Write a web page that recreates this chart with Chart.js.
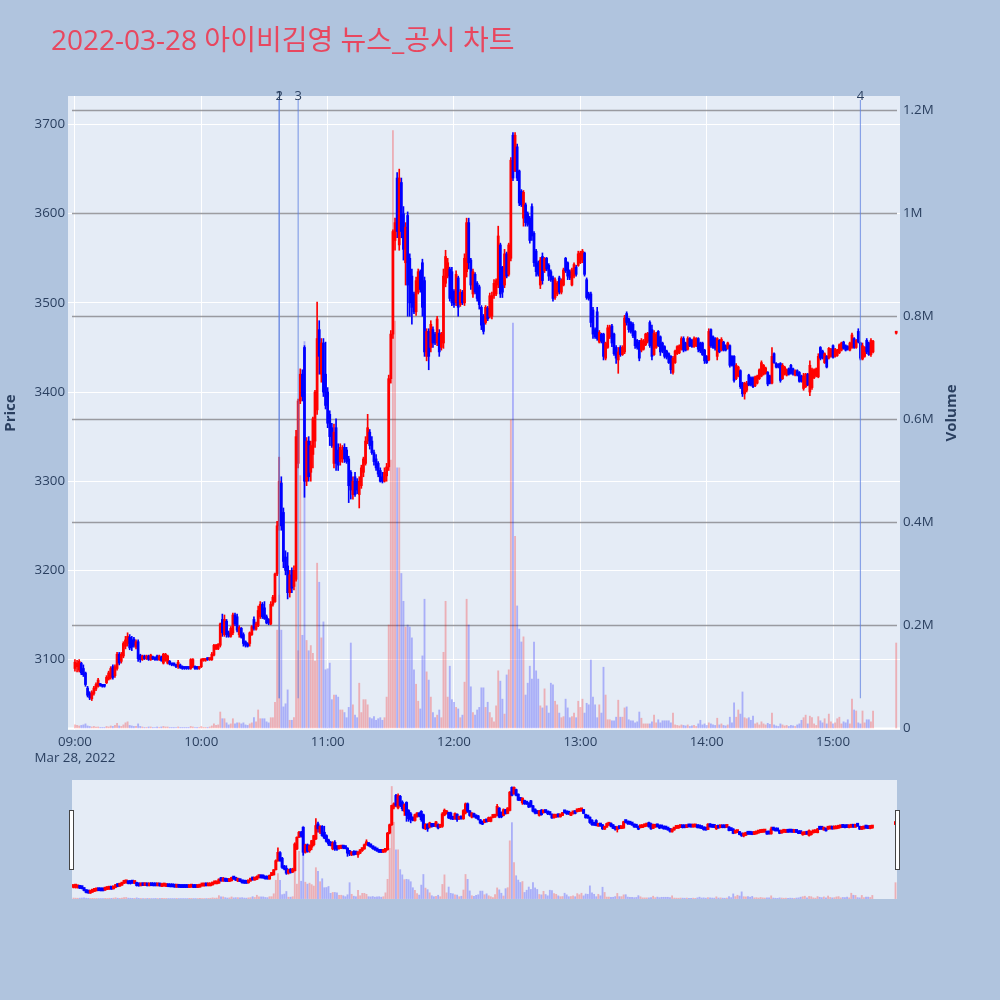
<!DOCTYPE html>
<html><head><meta charset="utf-8">
<script src="https://cdn.jsdelivr.net/npm/chart.js"></script>
<style>
html,body{margin:0;padding:0;background:#b0c4de;width:1000px;height:1000px;overflow:hidden;}
#main{position:absolute;left:0;top:0;}
#slider{position:absolute;left:72px;top:780px;}
.handle{position:absolute;top:810px;width:3px;height:58px;background:#ffffff;border:1px solid #444444;}
</style></head>
<body>
<canvas id="main" width="1000" height="775"></canvas>
<canvas id="slider" width="825" height="119"></canvas>
<div class="handle" style="left:69px"></div>
<div class="handle" style="left:895px"></div>
<script>
const titleText = '2022-03-28 아이비김영 뉴스_공시 차트';
const dateLabel = 'Mar 28, 2022';
const xTickTimes = ['09:00','10:00','11:00','12:00','13:00','14:00','15:00'];
const priceTicks = [3100,3200,3300,3400,3500,3600,3700];
const volumeTicks = [0,200000,400000,600000,800000,1000000,1200000];
const volumeTickLabels = ['0','0.2M','0.4M','0.6M','0.8M','1M','1.2M'];
const newsTimes = ['10:37','10:37','10:46','15:13'];
const newsLabels = ['1','2','3','4'];

const times = [
'09:00','09:01','09:02','09:03','09:04','09:05','09:06','09:07','09:08','09:09',
'09:10','09:11','09:12','09:13','09:14','09:15','09:16','09:17','09:18','09:19',
'09:20','09:21','09:22','09:23','09:24','09:25','09:26','09:27','09:28','09:29',
'09:30','09:31','09:32','09:33','09:34','09:35','09:36','09:37','09:38','09:39',
'09:40','09:41','09:42','09:43','09:44','09:45','09:46','09:47','09:48','09:49',
'09:50','09:51','09:52','09:53','09:54','09:55','09:56','09:57','09:58','09:59',
'10:00','10:01','10:02','10:03','10:04','10:05','10:06','10:07','10:08','10:09',
'10:10','10:11','10:12','10:13','10:14','10:15','10:16','10:17','10:18','10:19',
'10:20','10:21','10:22','10:23','10:24','10:25','10:26','10:27','10:28','10:29',
'10:30','10:31','10:32','10:33','10:34','10:35','10:36','10:37','10:38','10:39',
'10:40','10:41','10:42','10:43','10:44','10:45','10:46','10:47','10:48','10:49',
'10:50','10:51','10:52','10:53','10:54','10:55','10:56','10:57','10:58','10:59',
'11:00','11:01','11:02','11:03','11:04','11:05','11:06','11:07','11:08','11:09',
'11:10','11:11','11:12','11:13','11:14','11:15','11:16','11:17','11:18','11:19',
'11:20','11:21','11:22','11:23','11:24','11:25','11:26','11:27','11:28','11:29',
'11:30','11:31','11:32','11:33','11:34','11:35','11:36','11:37','11:38','11:39',
'11:40','11:41','11:42','11:43','11:44','11:45','11:46','11:47','11:48','11:49',
'11:50','11:51','11:52','11:53','11:54','11:55','11:56','11:57','11:58','11:59',
'12:00','12:01','12:02','12:03','12:04','12:05','12:06','12:07','12:08','12:09',
'12:10','12:11','12:12','12:13','12:14','12:15','12:16','12:17','12:18','12:19',
'12:20','12:21','12:22','12:23','12:24','12:25','12:26','12:27','12:28','12:29',
'12:30','12:31','12:32','12:33','12:34','12:35','12:36','12:37','12:38','12:39',
'12:40','12:41','12:42','12:43','12:44','12:45','12:46','12:47','12:48','12:49',
'12:50','12:51','12:52','12:53','12:54','12:55','12:56','12:57','12:58','12:59',
'13:00','13:01','13:02','13:03','13:04','13:05','13:06','13:07','13:08','13:09',
'13:10','13:11','13:12','13:13','13:14','13:15','13:16','13:17','13:18','13:19',
'13:20','13:21','13:22','13:23','13:24','13:25','13:26','13:27','13:28','13:29',
'13:30','13:31','13:32','13:33','13:34','13:35','13:36','13:37','13:38','13:39',
'13:40','13:41','13:42','13:43','13:44','13:45','13:46','13:47','13:48','13:49',
'13:50','13:51','13:52','13:53','13:54','13:55','13:56','13:57','13:58','13:59',
'14:00','14:01','14:02','14:03','14:04','14:05','14:06','14:07','14:08','14:09',
'14:10','14:11','14:12','14:13','14:14','14:15','14:16','14:17','14:18','14:19',
'14:20','14:21','14:22','14:23','14:24','14:25','14:26','14:27','14:28','14:29',
'14:30','14:31','14:32','14:33','14:34','14:35','14:36','14:37','14:38','14:39',
'14:40','14:41','14:42','14:43','14:44','14:45','14:46','14:47','14:48','14:49',
'14:50','14:51','14:52','14:53','14:54','14:55','14:56','14:57','14:58','14:59',
'15:00','15:01','15:02','15:03','15:04','15:05','15:06','15:07','15:08','15:09',
'15:10','15:11','15:12','15:13','15:14','15:15','15:16','15:17','15:18','15:19',
'15:30'];

const opens = [
3090,3092,3088,3096,3090,3085,3068,3062,3056,3062,
3067,3070,3072,3071,3071,3074,3078,3080,3092,3082,
3090,3106,3098,3104,3115,3118,3125,3122,3123,3114,
3120,3105,3100,3104,3101,3104,3100,3103,3102,3104,
3100,3103,3096,3099,3096,3098,3095,3095,3094,3092,
3094,3092,3091,3091,3091,3090,3092,3092,3091,3090,
3092,3099,3099,3101,3100,3100,3105,3112,3112,3116,
3145,3128,3143,3130,3126,3130,3150,3148,3128,3135,
3128,3120,3118,3118,3128,3145,3134,3138,3148,3162,
3158,3148,3145,3140,3162,3165,3196,3250,3298,3265,
3215,3205,3175,3200,3182,3190,3320,3390,3420,3450,
3300,3345,3310,3330,3345,3380,3470,3420,3455,3420,
3400,3375,3360,3320,3360,3335,3322,3325,3338,3335,
3325,3310,3285,3305,3300,3285,3295,3310,3320,3345,
3355,3345,3332,3325,3320,3312,3305,3300,3306,3316,
3415,3465,3570,3640,3565,3635,3600,3545,3598,3550,
3530,3510,3490,3512,3535,3545,3525,3440,3468,3450,
3470,3465,3455,3466,3450,3455,3522,3530,3538,3535,
3513,3500,3528,3498,3512,3500,3535,3590,3548,3510,
3532,3522,3518,3495,3485,3478,3494,3485,3485,3508,
3510,3520,3565,3540,3520,3555,3532,3550,3688,3648,
3675,3648,3625,3595,3610,3600,3595,3608,3578,3558,
3545,3520,3552,3536,3550,3542,3535,3528,3506,3510,
3528,3512,3520,3550,3545,3535,3520,3530,3540,3542,
3545,3548,3556,3526,3510,3510,3492,3470,3490,3456,
3465,3465,3438,3450,3462,3474,3465,3450,3436,3450,
3442,3445,3488,3482,3478,3476,3468,3458,3456,3447,
3448,3453,3457,3478,3470,3442,3450,3468,3462,3455,
3451,3446,3443,3440,3422,3433,3443,3444,3448,3460,
3455,3448,3460,3458,3451,3452,3460,3455,3455,3447,
3440,3436,3470,3462,3460,3440,3458,3447,3456,3452,
3449,3452,3440,3440,3415,3418,3424,3410,3398,3402,
3419,3416,3416,3407,3410,3415,3418,3420,3421,3422,
3418,3410,3443,3432,3431,3432,3415,3420,3419,3426,
3430,3426,3419,3424,3422,3418,3404,3406,3420,3400,
3405,3416,3418,3417,3450,3446,3433,3440,3438,3440,
3452,3440,3441,3444,3447,3456,3452,3451,3447,3450,
3460,3450,3468,3455,3437,3440,3458,3455,3442,3445,
3466];

const highs = [
3100,3099,3100,3097,3094,3086,3070,3064,3065,3070,
3074,3079,3073,3072,3072,3082,3087,3092,3094,3094,
3108,3108,3108,3120,3126,3130,3128,3126,3125,3122,
3122,3106,3105,3105,3105,3105,3106,3104,3103,3105,
3105,3104,3107,3107,3105,3099,3096,3096,3095,3099,
3095,3093,3092,3092,3092,3101,3101,3093,3092,3092,
3101,3101,3101,3102,3102,3108,3117,3117,3118,3141,
3151,3150,3145,3132,3137,3152,3152,3151,3138,3136,
3130,3121,3119,3131,3138,3148,3142,3160,3165,3164,
3165,3150,3146,3165,3172,3197,3255,3327,3305,3270,
3222,3220,3200,3203,3205,3357,3392,3426,3425,3452,
3349,3350,3345,3372,3402,3501,3480,3460,3460,3456,
3405,3379,3365,3364,3370,3342,3342,3340,3342,3338,
3328,3312,3305,3310,3303,3305,3318,3327,3350,3375,
3358,3350,3335,3330,3322,3315,3310,3315,3320,3419,
3469,3582,3595,3646,3650,3640,3608,3590,3602,3555,
3538,3512,3529,3538,3537,3549,3529,3471,3471,3480,
3473,3467,3485,3470,3467,3538,3559,3550,3540,3540,
3515,3536,3530,3515,3514,3555,3595,3595,3550,3538,
3534,3524,3520,3497,3487,3497,3496,3511,3512,3526,
3527,3586,3567,3541,3560,3557,3567,3663,3691,3691,
3678,3649,3627,3626,3612,3602,3597,3611,3580,3560,
3547,3551,3556,3551,3551,3544,3537,3530,3528,3524,
3530,3527,3539,3551,3546,3537,3539,3545,3542,3558,
3558,3560,3557,3528,3512,3512,3495,3472,3495,3469,
3466,3466,3456,3475,3475,3476,3466,3452,3450,3452,
3452,3486,3490,3483,3479,3478,3469,3459,3458,3460,
3459,3466,3467,3480,3475,3469,3467,3469,3463,3456,
3452,3447,3444,3441,3440,3447,3452,3453,3462,3462,
3456,3462,3461,3459,3462,3461,3461,3456,3456,3448,
3441,3471,3471,3463,3461,3461,3459,3461,3457,3453,
3456,3453,3441,3441,3432,3429,3425,3411,3411,3412,
3420,3417,3417,3418,3419,3426,3435,3431,3428,3423,
3419,3450,3444,3433,3432,3433,3432,3429,3426,3427,
3431,3427,3425,3425,3423,3419,3421,3421,3421,3435,
3427,3426,3427,3443,3451,3447,3444,3441,3450,3449,
3453,3449,3448,3454,3456,3457,3453,3452,3456,3466,
3461,3459,3471,3456,3455,3451,3460,3456,3460,3458,
3466];

const lows = [
3087,3086,3086,3083,3081,3070,3058,3055,3054,3060,
3065,3069,3070,3069,3069,3073,3077,3078,3078,3080,
3088,3094,3096,3102,3112,3115,3111,3110,3114,3112,
3098,3097,3099,3100,3100,3099,3099,3100,3099,3099,
3099,3098,3095,3098,3095,3094,3093,3093,3091,3090,
3090,3089,3089,3089,3089,3089,3091,3089,3089,3089,
3091,3098,3098,3099,3099,3099,3104,3111,3111,3114,
3126,3126,3125,3125,3125,3128,3138,3131,3125,3124,
3115,3114,3114,3115,3127,3133,3133,3137,3146,3146,
3145,3140,3139,3139,3160,3164,3194,3245,3245,3203,
3195,3168,3170,3175,3178,3188,3315,3387,3390,3282,
3295,3300,3300,3315,3338,3375,3420,3411,3395,3381,
3360,3340,3338,3315,3312,3312,3318,3321,3321,3320,
3276,3280,3280,3283,3286,3270,3292,3305,3318,3342,
3336,3330,3318,3312,3305,3299,3298,3299,3300,3312,
3410,3460,3559,3573,3559,3573,3548,3520,3485,3485,
3476,3488,3486,3510,3512,3485,3440,3435,3425,3445,
3450,3453,3452,3440,3447,3449,3518,3528,3502,3497,
3495,3497,3485,3496,3498,3497,3529,3538,3515,3506,
3510,3502,3493,3470,3465,3476,3480,3483,3482,3505,
3508,3517,3506,3506,3517,3528,3530,3547,3637,3647,
3637,3609,3608,3586,3586,3586,3567,3570,3541,3530,
3530,3516,3521,3534,3536,3525,3524,3502,3504,3508,
3510,3510,3519,3534,3526,3526,3519,3528,3530,3541,
3544,3545,3530,3504,3503,3473,3460,3460,3458,3455,
3455,3436,3436,3449,3460,3451,3441,3432,3421,3440,
3441,3443,3475,3467,3466,3461,3449,3448,3435,3445,
3447,3452,3455,3450,3436,3441,3449,3451,3441,3444,
3438,3437,3432,3421,3420,3432,3442,3443,3447,3445,
3446,3447,3451,3450,3450,3451,3445,3444,3441,3432,
3432,3435,3450,3449,3447,3436,3444,3446,3446,3446,
3448,3428,3429,3411,3414,3417,3404,3395,3392,3400,
3407,3407,3405,3406,3409,3414,3417,3419,3420,3407,
3409,3409,3432,3427,3427,3411,3414,3419,3418,3419,
3420,3419,3418,3418,3411,3411,3402,3405,3407,3396,
3403,3415,3417,3416,3436,3437,3432,3427,3437,3439,
3438,3439,3440,3443,3446,3448,3446,3447,3446,3449,
3449,3449,3455,3436,3436,3439,3443,3441,3440,3444,
3465];

const closes = [
3097,3096,3098,3085,3083,3072,3060,3057,3063,3068,
3072,3077,3071,3070,3070,3080,3085,3090,3080,3092,
3106,3096,3106,3118,3122,3126,3113,3114,3116,3120,
3101,3100,3104,3101,3104,3100,3105,3101,3100,3100,
3104,3099,3106,3106,3104,3095,3094,3094,3092,3097,
3091,3090,3090,3090,3090,3100,3100,3090,3090,3091,
3100,3100,3100,3100,3101,3106,3116,3116,3117,3140,
3130,3145,3128,3126,3135,3150,3140,3133,3136,3125,
3118,3116,3115,3130,3137,3135,3140,3155,3162,3148,
3146,3141,3141,3162,3170,3196,3250,3300,3250,3210,
3200,3175,3195,3180,3200,3350,3390,3420,3395,3300,
3345,3305,3340,3370,3400,3460,3440,3455,3400,3385,
3365,3350,3340,3355,3320,3318,3338,3335,3325,3322,
3295,3290,3300,3285,3290,3300,3315,3325,3345,3360,
3340,3332,3322,3315,3308,3300,3300,3310,3316,3415,
3465,3580,3590,3580,3640,3580,3560,3585,3520,3500,
3495,3490,3525,3535,3515,3495,3445,3468,3440,3476,
3455,3455,3482,3445,3465,3530,3552,3545,3505,3500,
3498,3532,3495,3512,3500,3550,3590,3545,3520,3535,
3512,3505,3498,3475,3468,3495,3482,3508,3508,3522,
3525,3575,3510,3512,3555,3530,3565,3660,3640,3688,
3640,3612,3610,3624,3590,3588,3570,3575,3545,3535,
3532,3548,3525,3550,3538,3530,3526,3505,3526,3522,
3512,3525,3537,3536,3530,3528,3537,3543,3532,3555,
3556,3558,3532,3506,3505,3478,3465,3462,3460,3467,
3457,3440,3455,3472,3473,3455,3443,3438,3445,3442,
3450,3483,3478,3470,3468,3463,3452,3450,3438,3458,
3457,3465,3466,3452,3440,3466,3465,3452,3445,3446,
3440,3439,3433,3425,3438,3446,3451,3452,3460,3447,
3447,3460,3452,3451,3460,3460,3448,3446,3442,3435,
3433,3468,3452,3450,3449,3460,3445,3459,3447,3447,
3455,3430,3430,3413,3430,3428,3406,3398,3410,3410,
3408,3408,3406,3417,3418,3425,3433,3430,3427,3409,
3410,3440,3433,3428,3428,3413,3430,3428,3425,3420,
3421,3420,3424,3419,3412,3412,3418,3420,3408,3430,
3425,3425,3426,3440,3438,3438,3443,3428,3449,3448,
3439,3448,3447,3453,3455,3449,3447,3448,3455,3464,
3450,3458,3456,3438,3452,3450,3445,3442,3458,3457,
3466];

const volumes = [
6000,5000,4000,5000,6000,8000,4000,3000,2000,3000,
2000,2000,1000,1000,1000,3000,2000,4000,3000,5000,
9000,4000,3000,6000,10000,12000,5000,4000,3000,3000,
8000,3000,2000,1000,1000,2000,2000,1000,1000,2000,
1000,2000,3000,2000,2000,1000,1000,1000,1000,2000,
1000,1000,1000,1000,1000,3000,2000,1000,1000,1000,
3000,1000,1000,1000,2000,4000,8000,5000,6000,31000,
18000,18000,10000,6000,8000,18000,8000,10000,10000,8000,
10000,6000,5000,8000,10000,20000,12000,35000,18000,18000,
18000,12000,10000,20000,20000,50000,190000,258000,190000,41000,
47000,74000,15000,15000,20000,400000,150000,490000,180000,750000,
170000,150000,160000,145000,130000,320000,283000,175000,206000,113000,
115000,126000,55000,64000,64000,60000,35000,35000,30000,20000,
40000,165000,45000,25000,20000,87000,30000,55000,55000,45000,
20000,18000,22000,15000,18000,20000,15000,20000,60000,200000,
520000,1160000,790000,505000,505000,300000,246000,196000,200000,196000,
175000,113000,85000,52000,37000,140000,250000,109000,93000,60000,
30000,20000,25000,35000,20000,147000,246000,60000,120000,55000,
50000,40000,37000,20000,25000,89000,250000,200000,80000,30000,
25000,35000,40000,78000,78000,40000,50000,30000,20000,12000,
43000,111000,91000,56000,27000,103000,113000,598000,786000,372000,
237000,192000,167000,177000,64000,87000,120000,95000,167000,111000,
95000,43000,39000,76000,43000,29000,87000,84000,52000,45000,
29000,20000,22000,56000,39000,20000,22000,29000,20000,52000,
40000,56000,29000,48000,45000,132000,60000,45000,20000,45000,
29000,118000,64000,16000,16000,14000,14000,21000,54000,21000,
21000,39000,41000,16000,14000,14000,10000,12000,31000,19000,
8000,8000,8000,8000,12000,25000,10000,16000,10000,14000,
14000,14000,14000,10000,29000,6000,5000,4000,6000,5000,
4000,6000,3000,4000,5000,3000,8000,15000,6000,8000,
5000,10000,8000,6000,5000,19000,6000,8000,5000,4000,
6000,21000,10000,49000,21000,35000,27000,70000,20000,18000,
20000,15000,23000,8000,10000,6000,12000,8000,6000,9000,
7000,29000,6000,4000,3000,8000,6000,4000,5000,3000,
5000,4000,3000,6000,8000,15000,20000,25000,8000,23000,
20000,8000,5000,22000,14000,10000,18000,8000,27000,12000,
8000,10000,18000,21000,8000,12000,10000,16000,8000,56000,
35000,33000,10000,8000,33000,10000,16000,16000,12000,33000,
165000];

// ---- derived structures for the library ----
const toMin = t => { const p = t.split(':').map(Number); return (p[0] - 9) * 60 + p[1]; };
const T = times.map(toMin);
const isUp = closes.map((c, i) => c >= opens[i]);
const candleColors = isUp.map(u => u ? '#ff0000' : '#0000ff');
const volColors = isUp.map(u => u ? 'rgba(255,0,0,0.26)' : 'rgba(0,0,255,0.26)');
const bodyData = T.map((t, i) => ({x: t, y: [opens[i], closes[i]]}));
const wickData = T.map((t, i) => ({x: t, y: [lows[i], highs[i]]}));
const volData = T.map((t, i) => ({x: t, y: volumes[i]}));
const xTickValues = xTickTimes.map(toMin);

const X_MIN = -3.3, X_MAX = 391.8;
const SX_MIN = -0.7, SX_MAX = 390.7;
const P_MIN = 3021, P_MAX = 3732;
const V_MIN = -3900, V_MAX = 1227000;
const FONT = '"Open Sans", "Noto Sans CJK KR", sans-serif';
const AXIS_COLOR = '#2a3f5f';

function makeDatasets(bodyThick, minLen) {
  return [
    {type: 'bar', data: volData, yAxisID: 'y2', backgroundColor: volColors, borderWidth: 0,
     barThickness: 1.2, grouped: false, order: 0},
    {type: 'bar', data: bodyData, yAxisID: 'y', backgroundColor: candleColors, borderWidth: 0,
     barThickness: bodyThick, minBarLength: minLen, grouped: false, order: 1},
    {type: 'bar', data: wickData, yAxisID: 'y', backgroundColor: candleColors, borderWidth: 0,
     barThickness: 1, minBarLength: 1, grouped: false, order: 2}
  ];
}

const bgPlugin = {
  id: 'bg',
  beforeDraw(chart) {
    const {ctx, chartArea: a} = chart;
    ctx.save();
    ctx.fillStyle = '#e5ecf6';
    ctx.fillRect(a.left, a.top, a.right - a.left, a.bottom - a.top);
    ctx.restore();
  }
};

const volGridPlugin = {
  id: 'volGrid',
  beforeDatasetsDraw(chart) {
    const {ctx, chartArea: a, scales} = chart;
    const s = scales.y2;
    ctx.save();
    volumeTicks.forEach(v => {
      const y = Math.round(s.getPixelForValue(v)) + 0.5;
      ctx.beginPath();
      if (v === 0) {
        ctx.strokeStyle = '#ffffff'; ctx.lineWidth = 2;
        ctx.moveTo(a.left, y); ctx.lineTo(a.right, y);
      } else {
        ctx.strokeStyle = 'rgba(140,140,145,0.85)'; ctx.lineWidth = 1.3;
        ctx.moveTo(a.left + 4, y); ctx.lineTo(a.right - 3, y);
      }
      ctx.stroke();
    });
    ctx.restore();
  }
};

const overlayPlugin = {
  id: 'overlay',
  afterDraw(chart) {
    const {ctx, chartArea: a, scales} = chart;
    ctx.save();
    const yBottom = a.bottom - 0.05 * (a.bottom - a.top);
    newsTimes.forEach((t, i) => {
      const x = scales.x.getPixelForValue(toMin(t));
      ctx.beginPath();
      ctx.strokeStyle = 'rgba(95,130,225,0.7)';
      ctx.lineWidth = 1.2;
      ctx.moveTo(x, a.top + 4);
      ctx.lineTo(x, yBottom);
      ctx.stroke();
    });
    ctx.fillStyle = AXIS_COLOR;
    ctx.font = '13px ' + FONT;
    ctx.textAlign = 'center';
    ctx.textBaseline = 'middle';
    newsTimes.forEach((t, i) => {
      const x = scales.x.getPixelForValue(toMin(t));
      ctx.fillText(newsLabels[i], x, a.top);
    });
    ctx.save();
    ctx.translate(952, (a.top + a.bottom) / 2);
    ctx.rotate(-Math.PI / 2);
    ctx.font = 'bold 15px ' + FONT;
    ctx.fillStyle = AXIS_COLOR;
    ctx.textAlign = 'center';
    ctx.textBaseline = 'middle';
    ctx.fillText('Volume', 0, 0);
    ctx.restore();
    ctx.font = '28px ' + FONT;
    ctx.fillStyle = '#e8475f';
    ctx.textAlign = 'left';
    ctx.textBaseline = 'alphabetic';
    ctx.fillText(titleText, 51, 50);
    ctx.restore();
  }
};

new Chart(document.getElementById('main'), {
  type: 'bar',
  data: {datasets: makeDatasets(2.1, 2)},
  options: {
    responsive: false, animation: false,
    layout: {padding: {top: 96, left: 0, right: 0, bottom: 0}},
    plugins: {legend: {display: false}, tooltip: {enabled: false}, title: {display: false}},
    scales: {
      x: {
        type: 'linear', position: 'bottom', min: X_MIN, max: X_MAX, offset: false,
        grid: {color: '#ffffff', lineWidth: 1, drawTicks: false, offset: false},
        border: {display: false},
        afterBuildTicks: s => { s.ticks = xTickValues.map(v => ({value: v})); },
        ticks: {
          padding: 4, color: AXIS_COLOR, font: {family: FONT, size: 13.3}, maxRotation: 0, autoSkip: false,
          callback: v => {
            const i = xTickValues.indexOf(v);
            return i === 0 ? [xTickTimes[0], dateLabel] : xTickTimes[i];
          }
        },
        afterFit: s => { s.height = 45; }
      },
      y: {
        type: 'linear', position: 'left', min: P_MIN, max: P_MAX,
        grid: {color: '#ffffff', lineWidth: 1, drawTicks: false},
        border: {display: false},
        afterBuildTicks: s => { s.ticks = priceTicks.map(v => ({value: v})); },
        ticks: {padding: 3, color: AXIS_COLOR, font: {family: FONT, size: 13.3}, callback: v => String(v)},
        title: {display: true, text: 'Price', color: AXIS_COLOR, font: {family: FONT, size: 15, weight: 'bold'},
                padding: {top: 2, bottom: 0}},
        afterFit: s => { s.width = 68; }
      },
      y2: {
        type: 'linear', position: 'right', min: V_MIN, max: V_MAX,
        grid: {display: false, drawTicks: false},
        border: {display: false},
        afterBuildTicks: s => { s.ticks = volumeTicks.map(v => ({value: v})); },
        ticks: {padding: 3, color: AXIS_COLOR, font: {family: FONT, size: 13.3},
                callback: v => volumeTickLabels[volumeTicks.indexOf(v)]},
        afterFit: s => { s.width = 100; }
      }
    }
  },
  plugins: [bgPlugin, volGridPlugin, overlayPlugin]
});

new Chart(document.getElementById('slider'), {
  type: 'bar',
  data: {datasets: makeDatasets(2.4, 3)},
  options: {
    responsive: false, animation: false,
    layout: {padding: 0},
    plugins: {legend: {display: false}, tooltip: {enabled: false}},
    scales: {
      x: {type: 'linear', min: SX_MIN, max: SX_MAX, offset: false, display: false, grid: {offset: false}},
      y: {type: 'linear', min: P_MIN, max: P_MAX, display: false},
      y2: {type: 'linear', min: V_MIN, max: V_MAX, display: false}
    }
  },
  plugins: [bgPlugin]
});
</script>
</body></html>
